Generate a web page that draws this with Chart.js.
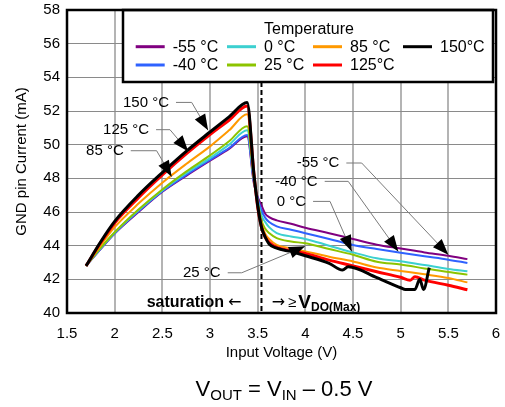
<!DOCTYPE html>
<html><head><meta charset="utf-8">
<script src="https://cdn.jsdelivr.net/npm/chart.js@4.4.1/dist/chart.umd.min.js"></script>
<style>html,body{margin:0;padding:0;background:#fff;}canvas{display:block}</style>
</head><body>
<canvas id="c" width="505" height="407"></canvas>
<script>
// ---- data ----
const seriesLabels = ['-55 °C', '-40 °C', '0 °C', '25 °C', '85 °C', '125°C', '150°C'];
const xTickValues = [1.5, 2, 2.5, 3, 3.5, 4, 4.5, 5, 5.5, 6];
const yTickValues = [40, 42, 44, 46, 48, 50, 52, 54, 56, 58];

const vin = [1.7, 1.85, 2.0, 2.25, 2.5, 2.75, 3.0, 3.2, 3.39, 3.46, 3.5, 3.54, 3.58, 3.62, 3.7, 3.85, 4.0, 4.25, 4.5, 4.75, 5.0, 5.25, 5.5, 5.7];
const iM55 = [42.8, 43.78, 44.72, 46.0, 47.2, 48.15, 49.05, 49.75, 50.5, 47.7, 46.9, 46.4, 45.9, 45.7, 45.5, 45.3, 45.06, 44.74, 44.4, 44.06, 43.83, 43.6, 43.4, 43.2];
const iM40 = [42.8, 43.8, 44.74, 46.05, 47.24, 48.2, 49.1, 49.8, 50.57, 47.8, 46.8, 46.1, 45.65, 45.4, 45.15, 44.95, 44.74, 44.4, 44.04, 43.8, 43.58, 43.37, 43.17, 42.97];
const i0 = [42.8, 43.83, 44.77, 46.1, 47.28, 48.3, 49.2, 50.0, 50.85, 47.9, 46.7, 45.8, 45.4, 45.1, 44.75, 44.55, 44.4, 44.0, 43.6, 43.25, 43.07, 42.85, 42.62, 42.48];
const i25 = [42.8, 43.85, 44.8, 46.15, 47.34, 48.4, 49.36, 50.2, 51.1, 48.0, 46.6, 45.5, 45.0, 44.75, 44.45, 44.25, 44.14, 43.8, 43.46, 43.05, 42.88, 42.65, 42.43, 42.28];
const i85 = [42.8, 44.0, 45.1, 46.5, 47.74, 48.85, 49.9, 50.85, 51.8, 48.2, 46.4, 45.3, 44.7, 44.4, 44.05, 43.85, 43.66, 43.34, 43.06, 42.7, 42.5, 42.3, 42.08, 41.82];
const vin125 = [1.7, 1.85, 2.0, 2.25, 2.5, 2.75, 3.0, 3.2, 3.39, 3.46, 3.5, 3.54, 3.58, 3.62, 3.7, 3.85, 4.0, 4.25, 4.5, 4.75, 5.0, 5.1, 5.15, 5.25, 5.5, 5.7];
const i125 = [42.8, 44.15, 45.35, 46.85, 48.2, 49.45, 50.6, 51.45, 52.3, 48.3, 46.3, 45.1, 44.5, 44.2, 43.9, 43.7, 43.54, 43.14, 42.8, 42.45, 42.12, 41.95, 42.15, 41.95, 41.65, 41.38];
const vin150 = [1.7, 1.85, 2.0, 2.25, 2.5, 2.75, 3.0, 3.2, 3.39, 3.46, 3.5, 3.54, 3.58, 3.62, 3.7, 3.85, 4.0, 4.25, 4.39, 4.45, 4.75, 5.0, 5.05, 5.15, 5.2, 5.24, 5.3];
const i150 = [42.8, 44.2, 45.44, 47.0, 48.34, 49.6, 50.75, 51.65, 52.5, 48.3, 46.4, 45.1, 44.5, 44.1, 43.85, 43.65, 43.4, 42.95, 42.55, 42.75, 42.1, 41.5, 41.4, 41.4, 42.0, 41.4, 42.7];
const vdoMax = 3.54;

// ---- styles ----
const colors = ['#800080', '#2f62ff', '#3cd0d0', '#8cc400', '#ff9900', '#ff0000', '#000000'];
const widths = [2, 2, 2, 2, 2, 3, 3];

Chart.defaults.font.family = "'Liberation Sans', Arial, sans-serif";
Chart.defaults.color = '#000';

const pts = (xs, ys) => xs.map((x, i) => ({x: x, y: ys[i]}));
const seriesData = [pts(vin, iM55), pts(vin, iM40), pts(vin, i0), pts(vin, i25), pts(vin, i85), pts(vin125, i125), pts(vin150, i150)];
// draw black on top (dataset 0 is drawn last)
const drawOrder = [6, 5, 4, 3, 2, 1, 0];
const datasets = drawOrder.map(k => ({
  label: seriesLabels[k], data: seriesData[k], borderColor: colors[k], borderWidth: widths[k],
  fill: false, pointRadius: 0, cubicInterpolationMode: 'monotone'
}));

function arrowHead(c, x0, y0, x1, y1, len, w) {
  const dx = x1 - x0, dy = y1 - y0, d = Math.hypot(dx, dy), ux = dx / d, uy = dy / d;
  const bx = x1 - ux * len, by = y1 - uy * len;
  c.beginPath(); c.moveTo(x1, y1);
  c.lineTo(bx - uy * w / 2, by + ux * w / 2);
  c.lineTo(bx + uy * w / 2, by - ux * w / 2);
  c.closePath(); c.fill();
}

const notes = [
  {text: '150 °C', at: [2.087, 52.51], elbow: 2.808, tip: [2.98, 50.85]},
  {text: '125 °C', at: [1.878, 50.89], elbow: 2.58, tip: [2.772, 49.6]},
  {text: '85 °C', at: [1.70, 49.64], elbow: 2.44, tip: [2.598, 48.1]},
  {text: '-55 °C', at: [3.909, 48.91], elbow: 4.591, tip: [5.5, 43.46]},
  {text: '-40 °C', at: [3.682, 47.82], elbow: 4.45, tip: [4.975, 43.66]},
  {text: '0 °C', at: [3.70, 46.63], elbow: 4.259, tip: [4.487, 43.66]},
  {text: '25 °C', at: [2.717, 42.39], elbow: 3.333, tip: [3.997, 43.96]}
];

const noPad = s => { s.paddingTop = 0; s.paddingBottom = 0; s.paddingLeft = 0; s.paddingRight = 0; };

const overlay = {
  id: 'overlay',
  beforeDatasetsDraw(chart) {
    const c = chart.ctx, a = chart.chartArea, xs = chart.scales.x;
    const px = xs.getPixelForValue(vdoMax);
    c.save(); c.strokeStyle = '#000'; c.lineWidth = 2; c.setLineDash([5, 3]);
    c.beginPath(); c.moveTo(px, a.top); c.lineTo(px, a.bottom); c.stroke(); c.restore();
  },
  afterDatasetsDraw(chart) {
    const c = chart.ctx, a = chart.chartArea, xs = chart.scales.x, ys = chart.scales.y;
    const X = v => xs.getPixelForValue(v), Y = v => ys.getPixelForValue(v);
    c.save();
    // annotations
    c.font = "15px 'Liberation Sans', Arial, sans-serif";
    c.textBaseline = 'middle'; c.textAlign = 'left';
    notes.forEach(n => {
      const tx = X(n.at[0]), ty = Y(n.at[1]);
      c.fillStyle = '#000'; c.fillText(n.text, tx, ty);
      const w = c.measureText(n.text).width;
      const ex = X(n.elbow), tipx = X(n.tip[0]), tipy = Y(n.tip[1]);
      c.strokeStyle = '#7a7a7a'; c.lineWidth = 1;
      c.beginPath(); c.moveTo(tx + w + 7, ty); c.lineTo(ex, ty); c.lineTo(tipx, tipy); c.stroke();
      c.fillStyle = '#000'; arrowHead(c, ex, ty, tipx, tipy, 16, 12);
    });
    // saturation / VDO labels
    const by = Y(40.63);
    let x = X(2.336);
    c.font = "bold 16px 'Liberation Sans', Arial, sans-serif";
    c.fillText('saturation', x, by);
    x += c.measureText('saturation').width + 4;
    c.font = "16px 'DejaVu Sans', 'Liberation Sans', sans-serif";
    c.fillText('\u2190', x, by);
    x = X(3.647);
    c.fillText('\u2192', x, by);
    x += c.measureText('\u2192').width + 3;
    c.font = "15px 'Liberation Sans', Arial, sans-serif";
    c.fillText('\u2265', x, by);
    x += c.measureText('\u2265').width + 2;
    c.font = "bold 19px 'Liberation Sans', Arial, sans-serif";
    c.textBaseline = 'alphabetic';
    c.fillText('V', x, by + 6);
    x += c.measureText('V').width;
    c.font = "bold 12px 'Liberation Sans', Arial, sans-serif";
    c.fillText('DO(Max)', x, by + 9);
    // legend box
    const L = a.left + 56, R = a.right - 3, T = a.top, B = a.top + 72;
    c.fillStyle = '#fff'; c.fillRect(L, T, R - L, B - T);
    c.strokeStyle = '#000'; c.lineWidth = 2.5; c.strokeRect(L, T, R - L, B - T);
    c.fillStyle = '#000'; c.textBaseline = 'middle'; c.textAlign = 'center';
    c.font = "16px 'Liberation Sans', Arial, sans-serif";
    c.fillText('Temperature', (L + R) / 2 + 1, T + 19.5);
    c.textAlign = 'left';
    const cols = [12.7, 104, 190, 280], rows = [36.7, 55];
    const slots = [[0, 0], [0, 1], [1, 0], [1, 1], [2, 0], [2, 1], [3, 0]];
    seriesLabels.forEach((lab, k) => {
      const lx = L + cols[slots[k][0]], ly = T + rows[slots[k][1]];
      c.strokeStyle = colors[k]; c.lineWidth = 3;
      c.beginPath(); c.moveTo(lx, ly); c.lineTo(lx + 29, ly); c.stroke();
      c.fillStyle = '#000'; c.fillText(lab, lx + 37, ly + 1);
    });
    // plot frame
    c.strokeStyle = '#000'; c.lineWidth = 2.5;
    c.strokeRect(a.left, a.top, a.right - a.left, a.bottom - a.top);
    c.restore();
  },
  afterDraw(chart) {
    const c = chart.ctx;
    c.save(); c.fillStyle = '#000'; c.textBaseline = 'alphabetic'; c.textAlign = 'left';
    const big = "22px 'Liberation Sans', Arial, sans-serif", small = "15px 'Liberation Sans', Arial, sans-serif";
    const parts = [['V', big, 0], ['OUT', small, 4], [' = V', big, 0], ['IN', small, 4], [' \u2013 0.5 V', big, 0]];
    let total = 0;
    parts.forEach(p => { c.font = p[1]; total += c.measureText(p[0]).width; });
    let x = 284 - total / 2; const base = 396;
    parts.forEach(p => { c.font = p[1]; c.fillText(p[0], x, base + p[2]); x += c.measureText(p[0]).width; });
    c.restore();
  }
};

new Chart(document.getElementById('c'), {
  type: 'line',
  data: {datasets: datasets},
  options: {
    responsive: false, animation: false,
    layout: {padding: {left: 0, right: 9, top: 10, bottom: 0}},
    plugins: {legend: {display: false}, tooltip: {enabled: false}},
    scales: {
      x: {
        type: 'linear', min: 1.5, max: 6,
        afterBuildTicks: s => { s.ticks = xTickValues.map(v => ({value: v})); },
        afterFit: s => { s.height = 94; noPad(s); },
        ticks: {font: {size: 15}, padding: 12, color: '#000', callback: v => String(v)},
        grid: {color: '#b4b4b4', lineWidth: 2, drawTicks: false},
        border: {display: false},
        title: {display: true, text: 'Input Voltage (V)', font: {size: 15}, color: '#000', padding: {top: 0, bottom: 45}}
      },
      y: {
        type: 'linear', min: 40, max: 58,
        afterBuildTicks: s => { s.ticks = yTickValues.map(v => ({value: v})); },
        afterFit: s => { s.width = 67; noPad(s); },
        ticks: {font: {size: 15}, padding: 7, color: '#000'},
        grid: {color: '#8a8a8a', lineWidth: 1, drawTicks: false},
        border: {display: false},
        title: {display: true, text: 'GND pin Current (mA)', font: {size: 15}, color: '#000', padding: {top: 13, bottom: 0}}
      }
    }
  },
  plugins: [overlay]
});
</script>
</body></html>
